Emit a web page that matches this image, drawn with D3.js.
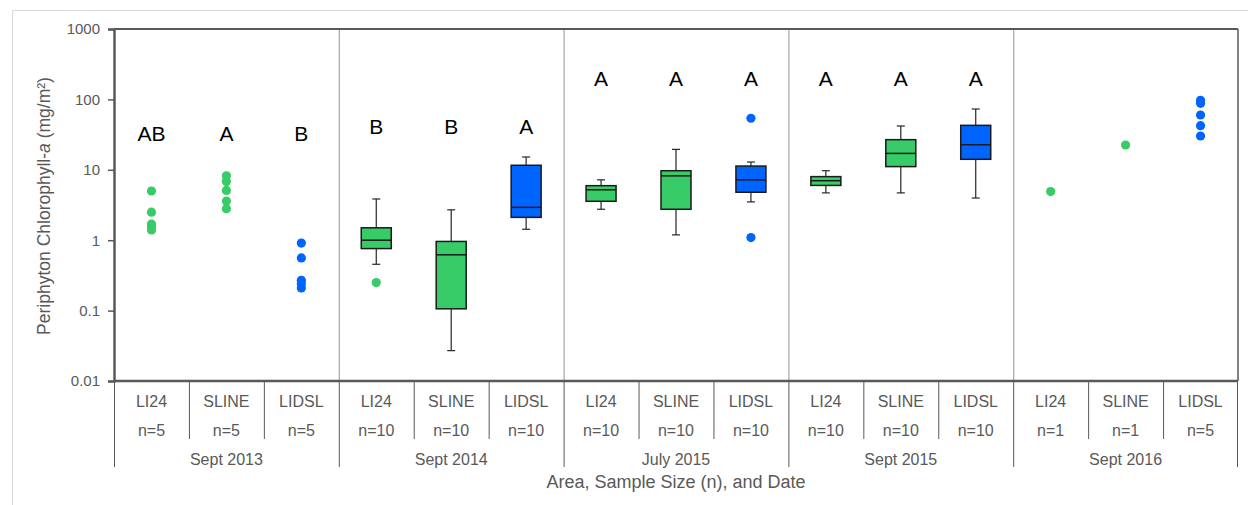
<!DOCTYPE html>
<html><head><meta charset="utf-8">
<script src="https://cdn.jsdelivr.net/npm/d3@7"></script>
<style>body{margin:0;background:#fff}svg{display:block;font-family:"Liberation Sans",Arial,sans-serif}</style>
</head><body><svg id="c" width="1248" height="505"></svg>
<script>
const dates = ["Sept 2013","Sept 2014","July 2015","Sept 2015","Sept 2016"];
const areas = ["LI24","SLINE","LIDSL"];
const areaColors = ["#38CC68","#38CC68","#0064FF"];
const sampleSizes = [[5,5,5],[10,10,10],[10,10,10],[10,10,10],[1,1,5]];
const letters = [["AB","A","B"],["B","B","A"],["A","A","A"],["A","A","A"],["","",""]];
const letterLevels = [33, 41, 195, 195, null];
const yTicks = [0.01,0.1,1,10,100,1000];

// box plots: [dateIndex, areaIndex, whiskerLow, q1, median, q3, whiskerHigh]
const boxDate   = [1,1,1, 2,2,2, 3,3,3];
const boxArea   = [0,1,2, 0,1,2, 0,1,2];
const boxLow    = [0.455,0.027,1.43, 2.75,1.19,3.5, 4.7,4.7,3.97];
const boxQ1     = [0.76,0.106,2.11, 3.57,2.75,4.8, 6.0,11.1,14.1];
const boxMedian = [1.0,0.62,2.93, 5.2,8.2,7.2, 7.0,17.1,22.7];
const boxQ3     = [1.5,0.96,11.6, 5.95,9.7,11.3, 8.0,26.8,42.8];
const boxHigh   = [3.85,2.7,15.2, 7.2,19.5,12.9, 9.7,41.9,73];

// individual points / outliers: [dateIndex, areaIndex, value]
const pointDate  = [0,0,0,0,0, 0,0,0,0,0, 0,0,0,0,0, 1, 2,2, 4, 4, 4,4,4,4,4];
const pointArea  = [0,0,0,0,0, 1,1,1,1,1, 2,2,2,2,2, 0, 2,2, 0, 1, 2,2,2,2,2];
const pointValue = [5,2.5,1.7,1.55,1.4, 8.2,6.8,5.1,3.6,2.8, 0.91,0.56,0.27,0.24,0.21, 0.25, 54,1.09, 4.9, 22.5, 97,88,60,42.3,30.2];

const svg = d3.select("#c");
const L = 114, R = 1238, T = 29, B = 381;
const keys = [];
dates.forEach((d,i)=>areas.forEach((a,j)=>keys.push(i+"-"+j)));
const x = d3.scaleBand().domain(keys).range([L,R]).padding(0);
const xg = d3.scaleBand().domain(dates.map((d,i)=>i)).range([L,R]).padding(0);
const y = d3.scaleLog().domain([0.01,1000]).range([B,T]);
const cx = (di,ai)=> x(di+"-"+ai) + x.bandwidth()/2;

// outer light border
svg.append("line").attr("x1",12).attr("x2",1248).attr("y1",10.5).attr("y2",10.5).attr("stroke","#d9d9d9");
svg.append("line").attr("x1",12.5).attr("x2",12.5).attr("y1",10).attr("y2",505).attr("stroke","#d9d9d9");

// group separators in plot
dates.forEach((d,i)=>{ if(i>0){ svg.append("line").attr("x1",xg(i)+0.5).attr("x2",xg(i)+0.5).attr("y1",T).attr("y2",B).attr("stroke","#a6a6a6").attr("stroke-width",1.2);} });

// frame top & right
svg.append("line").attr("x1",L).attr("x2",R).attr("y1",T).attr("y2",T).attr("stroke","#595959").attr("stroke-width",2);
svg.append("line").attr("x1",R).attr("x2",R).attr("y1",T).attr("y2",B).attr("stroke","#595959").attr("stroke-width",1.5);

// y axis
const yAxis = d3.axisLeft(y).tickValues(yTicks).tickFormat(d=>String(d)).tickSize(6).tickPadding(8);
const ga = svg.append("g").attr("transform",`translate(${L},0)`).call(yAxis);
ga.select(".domain").attr("stroke","#595959").attr("stroke-width",2.5);
ga.selectAll(".tick line").attr("stroke","#595959").attr("stroke-width",1.5);
ga.selectAll(".tick text").attr("fill","#595959").attr("font-size",15).attr("font-family","Liberation Sans, Arial, sans-serif");

// y title
const yt = svg.append("text").attr("transform","translate(44,206) rotate(-90)").attr("text-anchor","middle")
  .attr("dy","0.35em").attr("fill","#595959").attr("font-size",17.5);
yt.append("tspan").text("Periphyton Chlorophyll-");
yt.append("tspan").attr("font-style","italic").text("a");
yt.append("tspan").text(" (mg/m²)");

// category table
svg.append("line").attr("x1",L).attr("x2",R).attr("y1",B).attr("y2",B).attr("stroke","#595959").attr("stroke-width",2.5);
keys.forEach((k,i)=>{
  const xx = x(k);
  const isGroup = i%3===0;
  svg.append("line").attr("x1",xx+0.5).attr("x2",xx+0.5).attr("y1",B).attr("y2",isGroup?467:439).attr("stroke","#595959").attr("stroke-width",1);
});
svg.append("line").attr("x1",R-0.5).attr("x2",R-0.5).attr("y1",B).attr("y2",467).attr("stroke","#595959").attr("stroke-width",1);
dates.forEach((d,i)=>{
  areas.forEach((a,j)=>{
    svg.append("text").attr("x",cx(i,j)).attr("y",401).attr("dy","0.35em").attr("text-anchor","middle").attr("fill","#595959").attr("font-size",16).text(a);
    svg.append("text").attr("x",cx(i,j)).attr("y",430).attr("dy","0.35em").attr("text-anchor","middle").attr("fill","#595959").attr("font-size",16).text("n="+sampleSizes[i][j]);
  });
  svg.append("text").attr("x",xg(i)+xg.bandwidth()/2).attr("y",459).attr("dy","0.35em").attr("text-anchor","middle").attr("fill","#595959").attr("font-size",16).text(d);
});
svg.append("text").attr("x",676).attr("y",482).attr("dy","0.35em").attr("text-anchor","middle").attr("fill","#595959").attr("font-size",18).text("Area, Sample Size (n), and Date");

// boxes
const bw = 30, cap = 8;
boxDate.forEach((di,k)=>{
  const ai = boxArea[k], c = cx(di,ai);
  const g = svg.append("g");
  g.append("line").attr("x1",c).attr("x2",c).attr("y1",y(boxHigh[k])).attr("y2",y(boxQ3[k])).attr("stroke","#262626").attr("stroke-width",1.2);
  g.append("line").attr("x1",c).attr("x2",c).attr("y1",y(boxQ1[k])).attr("y2",y(boxLow[k])).attr("stroke","#262626").attr("stroke-width",1.2);
  g.append("line").attr("x1",c-cap/2).attr("x2",c+cap/2).attr("y1",y(boxHigh[k])).attr("y2",y(boxHigh[k])).attr("stroke","#262626").attr("stroke-width",1.2);
  g.append("line").attr("x1",c-cap/2).attr("x2",c+cap/2).attr("y1",y(boxLow[k])).attr("y2",y(boxLow[k])).attr("stroke","#262626").attr("stroke-width",1.2);
  g.append("rect").attr("x",c-bw/2).attr("width",bw).attr("y",y(boxQ3[k])).attr("height",y(boxQ1[k])-y(boxQ3[k]))
    .attr("fill",areaColors[ai]).attr("stroke","#1a1a1a").attr("stroke-width",1.5);
  g.append("line").attr("x1",c-bw/2).attr("x2",c+bw/2).attr("y1",y(boxMedian[k])).attr("y2",y(boxMedian[k])).attr("stroke","#1a1a1a").attr("stroke-width",1.5);
});

// points
pointDate.forEach((di,k)=>{
  const ai = pointArea[k];
  svg.append("circle").attr("cx",cx(di,ai)).attr("cy",y(pointValue[k])).attr("r",4.6).attr("fill",areaColors[ai]);
});

// letters
dates.forEach((d,i)=>{
  if(letterLevels[i]==null) return;
  areas.forEach((a,j)=>{
    svg.append("text").attr("x",cx(i,j)).attr("y",y(letterLevels[i])).attr("dy","0.35em").attr("text-anchor","middle").attr("fill","#000").attr("font-size",21).text(letters[i][j]);
  });
});
</script></body></html>
